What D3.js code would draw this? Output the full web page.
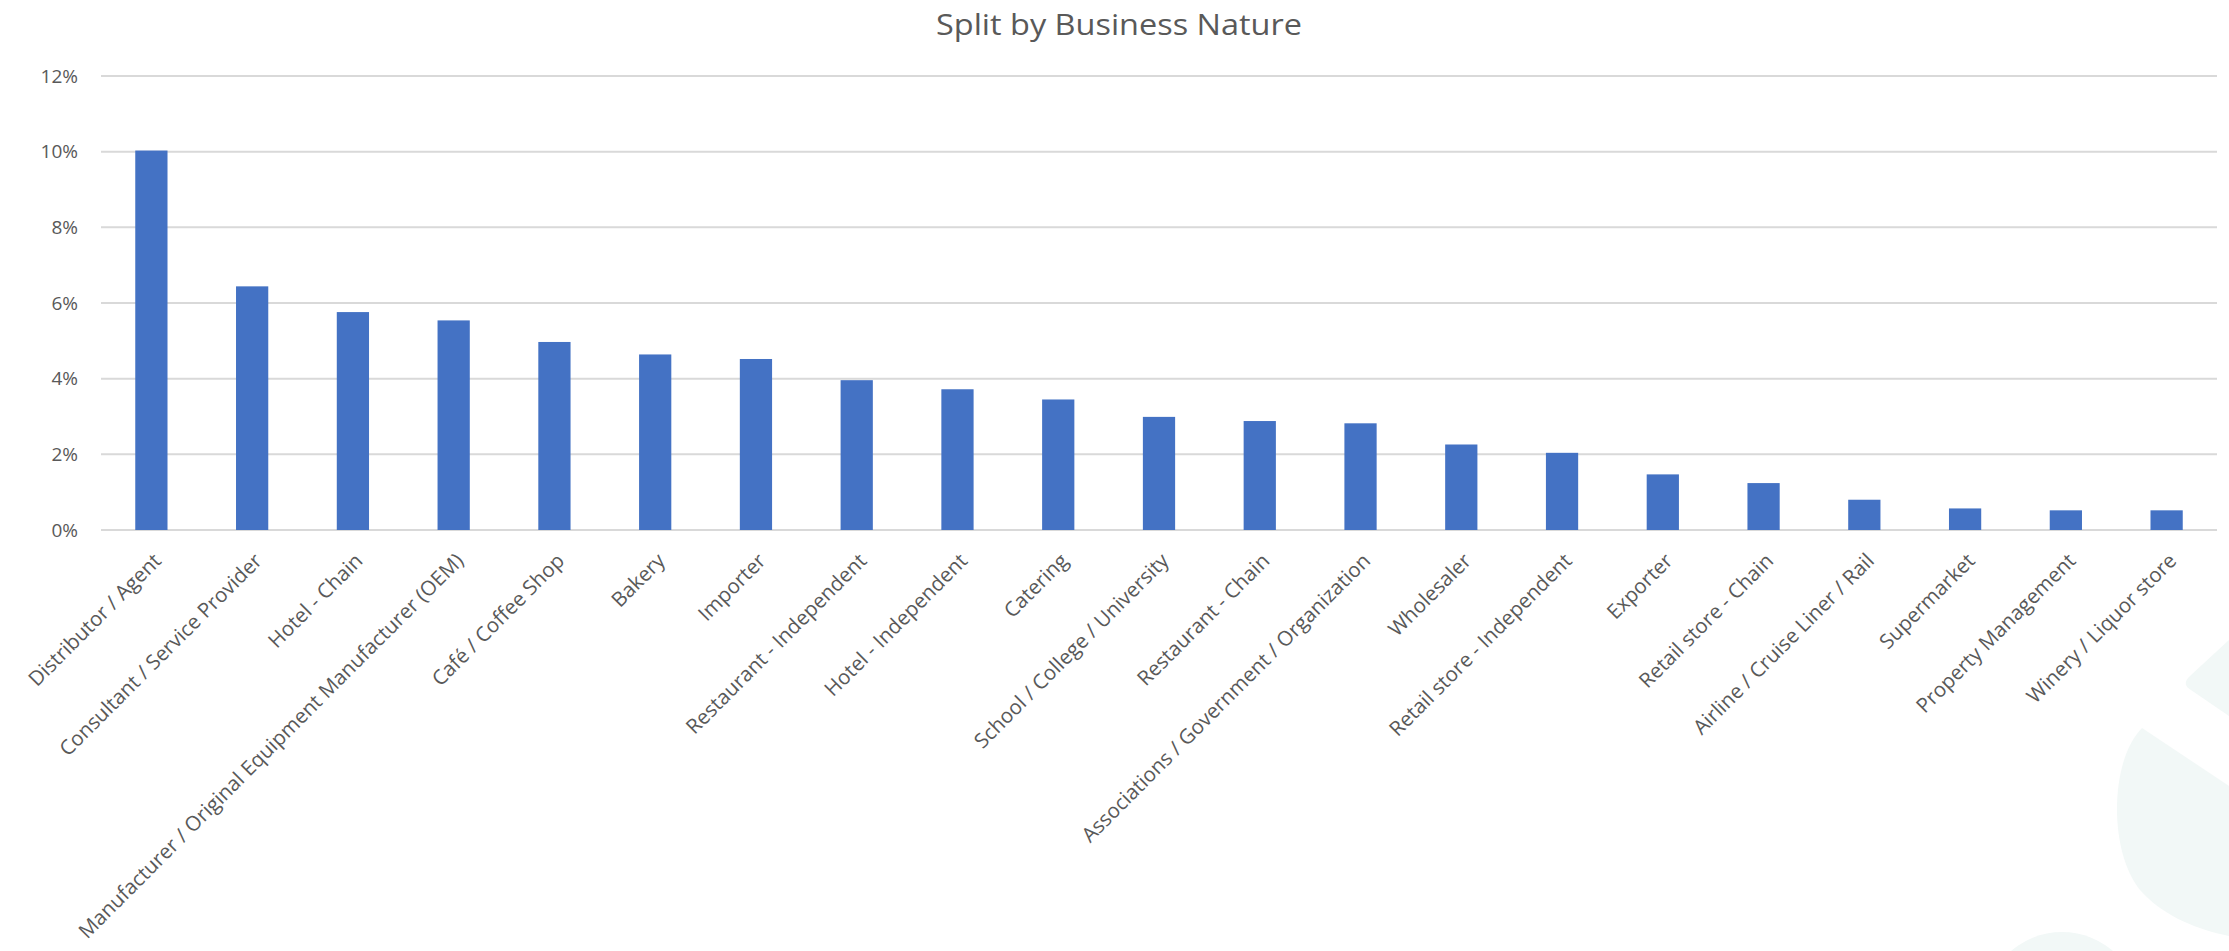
<!DOCTYPE html>
<html>
<head>
<meta charset="utf-8">
<script src="https://cdn.jsdelivr.net/npm/d3@7/dist/d3.min.js"></script>
<style>
  html, body { margin: 0; padding: 0; background: #ffffff; }
  svg { display: block; }
  text { font-family: "Open Sans", "Noto Sans", sans-serif; fill: #595959; }
</style>
</head>
<body>
<svg id="chart" width="2229" height="951"></svg>
<script>
// Share of respondents by business nature
const categories = [
  "Distributor / Agent",
  "Consultant / Service Provider",
  "Hotel - Chain",
  "Manufacturer / Original Equipment Manufacturer (OEM)",
  "Café / Coffee Shop",
  "Bakery",
  "Importer",
  "Restaurant - Independent",
  "Hotel - Independent",
  "Catering",
  "School / College / University",
  "Restaurant - Chain",
  "Associations / Government / Organization",
  "Wholesaler",
  "Retail store - Independent",
  "Exporter",
  "Retail store - Chain",
  "Airline / Cruise Liner / Rail",
  "Supermarket",
  "Property Management",
  "Winery / Liquor store"
];
const shares = [
  0.1003, 0.0644, 0.0576, 0.0554, 0.0497, 0.0464, 0.0452,
  0.0396, 0.0372, 0.0345, 0.0299, 0.0288, 0.0282, 0.0226,
  0.0204, 0.0147, 0.0124, 0.0080, 0.0057, 0.0052, 0.0052
];
const yTicks = [0, 0.02, 0.04, 0.06, 0.08, 0.10, 0.12];
const chartTitle = "Split by Business Nature";

const svg = d3.select("#chart");

// faint decorative shapes in the lower right corner
const deco = svg.append("g").attr("fill", "#f2f8f7");
deco.append("path")
  .attr("d", "M2229,640 L2190,676 Q2181,684 2191,690 L2229,716 Z");
deco.append("path")
  .attr("d", "M2142,728 C2110,760 2108,850 2140,890 C2165,918 2200,930 2229,936 L2229,786 Z");
deco.append("circle").attr("cx", 2062).attr("cy", 1010).attr("r", 78);

const x = d3.scaleBand()
  .domain(categories)
  .range([101, 2217])
  .paddingInner(0.68)
  .paddingOuter(0.34);

const y = d3.scaleLinear()
  .domain([0, 0.12])
  .range([530, 76]);

// horizontal gridlines
svg.append("g")
  .selectAll("line")
  .data(yTicks)
  .join("line")
  .attr("x1", 101)
  .attr("x2", 2217)
  .attr("y1", d => y(d))
  .attr("y2", d => y(d))
  .attr("stroke", "#d9d9d9")
  .attr("stroke-width", 2);

// y axis labels
const yAxis = d3.axisLeft(y)
  .tickValues(yTicks)
  .tickFormat(d3.format(".0%"))
  .tickSize(0)
  .tickPadding(0);
const yG = svg.append("g")
  .attr("transform", "translate(78,0)")
  .call(yAxis);
yG.select(".domain").remove();
yG.selectAll("text")
  .style("font-family", "'Open Sans', sans-serif")
  .style("font-size", "19px")
  .attr("fill", "#595959");

// bars
svg.append("g")
  .selectAll("rect")
  .data(categories.map((c, i) => ({ c, v: shares[i] })))
  .join("rect")
  .attr("x", d => x(d.c))
  .attr("width", x.bandwidth())
  .attr("y", d => y(d.v))
  .attr("height", d => y(0) - y(d.v))
  .attr("fill", "#4472c4");

// category labels, rotated
const xAxis = d3.axisBottom(x).tickSize(0).tickPadding(0);
const xG = svg.append("g")
  .attr("transform", "translate(0,530)")
  .call(xAxis);
xG.select(".domain").remove();
xG.selectAll(".tick text")
  .style("font-family", "'Open Sans', sans-serif")
  .style("font-size", "20.5px")
  .attr("fill", "#595959")
  .attr("text-anchor", "end")
  .attr("dy", "0.35em")
  .attr("transform", "translate(6,27) rotate(-45)");

// title
svg.append("text")
  .attr("x", 1119)
  .attr("y", 35)
  .attr("text-anchor", "middle")
  .style("font-size", "30px")
  .attr("textLength", 366)
  .attr("lengthAdjust", "spacingAndGlyphs")
  .text(chartTitle);
</script>
</body>
</html>
